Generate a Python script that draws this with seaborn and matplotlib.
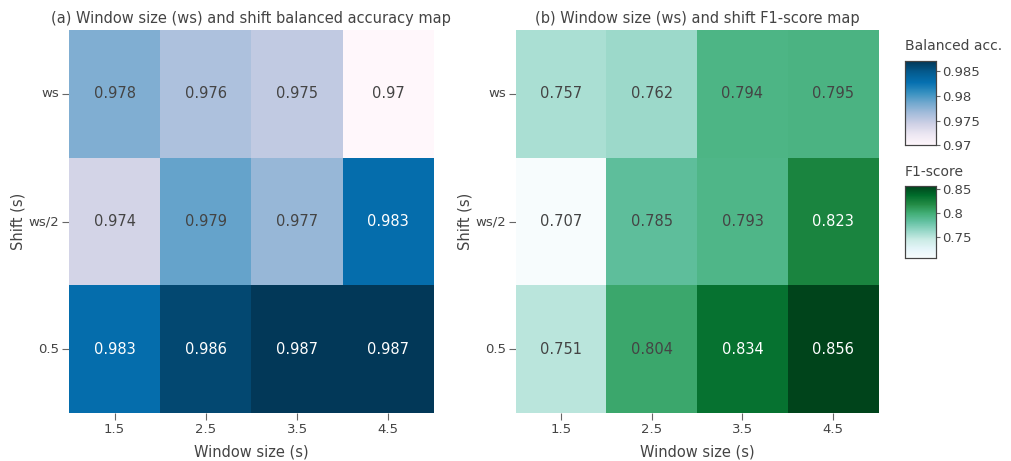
import numpy as np
import pandas as pd
import matplotlib
matplotlib.use("Agg")
import matplotlib.pyplot as plt
import seaborn as sns

window_sizes = ["1.5", "2.5", "3.5", "4.5"]
shifts = ["ws", "ws/2", "0.5"]

balanced_acc = [
    [0.978, 0.976, 0.975, 0.970],
    [0.974, 0.979, 0.977, 0.983],
    [0.983, 0.986, 0.987, 0.987],
]
f1_score = [
    [0.757, 0.762, 0.794, 0.795],
    [0.707, 0.785, 0.793, 0.823],
    [0.751, 0.804, 0.834, 0.856],
]

sns.set_theme(style="white")
plt.rcParams["font.family"] = ["DejaVu Sans"]
TXT = "#444444"
TICK = "#666666"

fig = plt.figure(figsize=(10.11, 4.61), dpi=100)
ax1 = fig.add_axes([0.0682, 0.104, 0.361, 0.831])
ax2 = fig.add_axes([0.510, 0.104, 0.359, 0.831])
cax1 = fig.add_axes([0.895, 0.685, 0.031, 0.182])
cax2 = fig.add_axes([0.895, 0.440, 0.031, 0.156])


def draw(ax, cax, values, cmap, title, cbar_title, ticks):
    df = pd.DataFrame(values, index=shifts, columns=window_sizes)
    vmin, vmax = float(np.min(values)), float(np.max(values))
    norm = plt.Normalize(vmin, vmax)
    sns.heatmap(df, ax=ax, cmap=cmap, vmin=vmin, vmax=vmax, cbar=True,
                cbar_ax=cax, annot=False, linewidths=0)
    for i, row in enumerate(values):
        for j, v in enumerate(row):
            color = "white" if norm(v) > 0.7 else TXT
            ax.text(j + 0.5, i + 0.5, f"{v:g}", ha="center", va="center",
                    fontsize=10.5, color=color)
    ax.set_title(title, fontsize=10.5, color=TXT, pad=5)
    ax.set_xlabel("Window size (s)", fontsize=10.5, color=TXT, labelpad=6)
    ax.set_ylabel("Shift (s)", fontsize=10.5, color=TXT, labelpad=2)
    ax.tick_params(axis="both", which="both", length=5, width=0.8,
                   color=TICK, labelsize=9.5, labelcolor=TXT, pad=2,
                   bottom=True, left=True)
    ax.set_yticklabels(shifts, rotation=0)
    ax.set_xticklabels(window_sizes, rotation=0)
    for s in ax.spines.values():
        s.set_visible(False)
    cax.set_yticks(ticks)
    cax.set_yticklabels([f"{t:g}" for t in ticks])
    cax.tick_params(axis="y", length=3, width=0.8, color=TICK,
                    labelsize=9.5, labelcolor=TXT, pad=1, right=True)
    for s in cax.spines.values():
        s.set_visible(True)
        s.set_color("#444444")
        s.set_linewidth(0.8)
    cax.text(0.0, 1.1, cbar_title, transform=cax.transAxes, ha="left",
             va="bottom", fontsize=10, color=TXT)


draw(ax1, cax1, balanced_acc, "PuBu",
     "(a) Window size (ws) and shift balanced accuracy map",
     "Balanced acc.", [0.97, 0.975, 0.98, 0.985])
draw(ax2, cax2, f1_score, "BuGn",
     "(b) Window size (ws) and shift F1-score map",
     "F1-score", [0.75, 0.8, 0.85])

fig.savefig("out.png", dpi=100)
